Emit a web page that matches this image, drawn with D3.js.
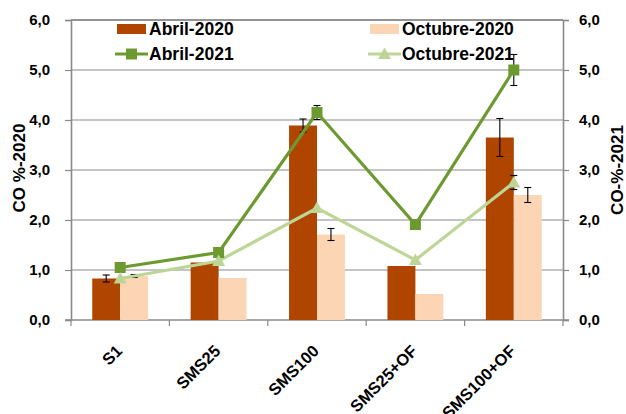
<!DOCTYPE html>
<html><head><meta charset="utf-8">
<script src="https://cdn.jsdelivr.net/npm/d3@7"></script>
<style>
html,body{margin:0;padding:0;background:#fff;}
svg{display:block;font-family:"Liberation Sans",Arial,sans-serif;font-weight:bold;}
</style></head>
<body>
<svg id="chart" width="626" height="414"></svg>
<script>
const categories = ["S1","SMS25","SMS100","SMS25+OF","SMS100+OF"];
const abril2020 = [0.83,1.15,3.89,1.08,3.65];
const abril2020Err = [0.07,0,0.13,0,0.38];
const octubre2020 = [0.88,0.84,1.71,0.52,2.50];
const octubre2020Err = [0.03,0,0.12,0,0.15];
const abril2021 = [1.05,1.35,4.15,1.91,5.00];
const abril2021Err = [0,0,0.14,0,0.31];
const octubre2021 = [0.83,1.18,2.24,1.20,2.75];
const octubre2021Err = [0,0,0,0,0.14];
const yTicks = [0,1,2,3,4,5,6];
const barSeries = ["Abril-2020","Octubre-2020"];
const leftTitle = "CO %-2020";
const rightTitle = "CO-%-2021";

const svg = d3.select("#chart");
const L = 71, R = 563, T = 20, B = 320;
const x = d3.scaleBand().domain(categories).range([L,R]).padding(0);
const xs = d3.scaleBand().domain(barSeries).range([0,x.bandwidth()]).paddingInner(0).paddingOuter(0.76);
const yL = d3.scaleLinear().domain([0,6]).range([B,T]);
const yR = d3.scaleLinear().domain([0,6]).range([B,T]);
const fmt = d => d.toFixed(1).replace(".",",");

const cDark = "#B04500", cLight = "#FCD5B5", gDark = "#6C9A31", gLight = "#BDD697";

// gridlines
svg.append("g").selectAll("line").data(yTicks.filter(d=>d>0)).join("line")
  .attr("x1",L).attr("x2",R).attr("y1",d=>yL(d)).attr("y2",d=>yL(d))
  .attr("stroke",d=>d===6?"#707070":"#c4c4c4").attr("stroke-width",d=>d===6?1.5:2);

// axes
const gl = svg.append("g").attr("transform",`translate(${L},0)`)
  .call(d3.axisLeft(yL).tickValues(yTicks).tickFormat(fmt).tickSize(6).tickPadding(15));
const gr = svg.append("g").attr("transform",`translate(${R},0)`)
  .call(d3.axisRight(yR).tickValues(yTicks).tickFormat(fmt).tickSize(6).tickPadding(10));
[gl,gr].forEach(g=>{
  g.select(".domain").attr("stroke","#8a8a8a").attr("stroke-width",1.6);
  g.selectAll(".tick line").attr("stroke","#8a8a8a").attr("stroke-width",1.2);
  g.selectAll("text").attr("font-size",15).attr("font-weight","bold").attr("fill","#000")
    .attr("font-family",'"Liberation Sans",Arial,sans-serif');
});

// x axis
const gx = svg.append("g").attr("transform",`translate(0,${B})`);
gx.append("line").attr("x1",L-6).attr("x2",R+6).attr("stroke","#8a8a8a").attr("stroke-width",1.6);
const bounds = categories.map(c=>x(c)).concat([R]);
gx.selectAll("line.tk").data(bounds).join("line").attr("class","tk")
  .attr("x1",d=>d).attr("x2",d=>d).attr("y1",0).attr("y2",6)
  .attr("stroke","#8a8a8a").attr("stroke-width",1.2);
gx.selectAll("text").data(categories).join("text")
  .attr("transform",d=>`translate(${x(d)+x.bandwidth()/2+3},${32}) rotate(-45)`)
  .attr("text-anchor","end").attr("font-size",16.5).attr("fill","#000").text(d=>d);

// bars
const bars = [
  {name:"Abril-2020", vals:abril2020, err:abril2020Err, color:cDark},
  {name:"Octubre-2020", vals:octubre2020, err:octubre2020Err, color:cLight}
];
bars.forEach(s=>{
  svg.append("g").selectAll("rect").data(categories).join("rect")
    .attr("x",(c)=>x(c)+xs(s.name)).attr("width",xs.bandwidth())
    .attr("y",(c,i)=>yL(s.vals[i])).attr("height",(c,i)=>B-yL(s.vals[i]))
    .attr("fill",s.color);
});
function errorBars(cx, vals, errs, scale){
  const g = svg.append("g").attr("stroke","#000").attr("stroke-width",1.1);
  categories.forEach((c,i)=>{
    if(!errs[i]) return;
    const X = cx(c), y1 = scale(vals[i]+errs[i]), y2 = scale(vals[i]-errs[i]);
    g.append("line").attr("x1",X).attr("x2",X).attr("y1",y1).attr("y2",y2);
    g.append("line").attr("x1",X-3.5).attr("x2",X+3.5).attr("y1",y1).attr("y2",y1);
    g.append("line").attr("x1",X-3.5).attr("x2",X+3.5).attr("y1",y2).attr("y2",y2);
  });
}
bars.forEach(s=>errorBars(c=>x(c)+xs(s.name)+xs.bandwidth()/2, s.vals, s.err, yL));

// lines
const cxm = c=>x(c)+x.bandwidth()/2;
const lines = [
  {name:"Abril-2021", vals:abril2021, err:abril2021Err, color:gDark, shape:"square"},
  {name:"Octubre-2021", vals:octubre2021, err:octubre2021Err, color:gLight, shape:"triangle"}
];
const lineGen = d3.line().x(d=>cxm(d.c)).y(d=>yR(d.v));
lines.forEach(s=>{
  const pts = categories.map((c,i)=>({c, v:s.vals[i]}));
  svg.append("path").datum(pts).attr("d",lineGen).attr("fill","none")
    .attr("stroke",s.color).attr("stroke-width",3.2).attr("stroke-linejoin","miter");
});
lines.forEach(s=>errorBars(cxm, s.vals, s.err, yR));
function marker(g, shape, color, X, Y){
  if(shape==="square"){
    g.append("rect").attr("x",X-5.5).attr("y",Y-5.5).attr("width",11).attr("height",11).attr("fill",color);
  } else {
    g.append("path").attr("d",`M${X},${Y-6.5}L${X+6.5},${Y+5}L${X-6.5},${Y+5}Z`).attr("fill",color);
  }
}
lines.forEach(s=>{
  const g = svg.append("g");
  categories.forEach((c,i)=>marker(g, s.shape, s.color, cxm(c), yR(s.vals[i])));
});

// axis titles
svg.append("text").attr("transform",`translate(19,${(T+B)/2-2}) rotate(-90)`)
  .attr("text-anchor","middle").attr("dominant-baseline","central").attr("font-size",17).text(leftTitle);
svg.append("text").attr("transform",`translate(617,${(T+B)/2}) rotate(-90)`)
  .attr("text-anchor","middle").attr("dominant-baseline","central").attr("font-size",17).text(rightTitle);

// legend
const leg = svg.append("g").attr("font-size",17.5);
const legItems = [
  {name:"Abril-2020", type:"bar", color:cDark, x:117, y:29},
  {name:"Octubre-2020", type:"bar", color:cLight, x:370, y:29},
  {name:"Abril-2021", type:"line", color:gDark, shape:"square", x:117, y:54},
  {name:"Octubre-2021", type:"line", color:gLight, shape:"triangle", x:370, y:54}
];
legItems.forEach(it=>{
  if(it.type==="bar"){
    leg.append("rect").attr("x",it.x).attr("y",it.y-5).attr("width",29).attr("height",10).attr("fill",it.color);
  } else {
    leg.append("line").attr("x1",it.x-2).attr("x2",it.x+31).attr("y1",it.y).attr("y2",it.y)
      .attr("stroke",it.color).attr("stroke-width",3.2);
    marker(leg, it.shape, it.color, it.x+14.5, it.y);
  }
  leg.append("text").attr("x",it.x+32).attr("y",it.y+6).attr("fill","#000").text(it.name);
});
</script>
</body></html>
